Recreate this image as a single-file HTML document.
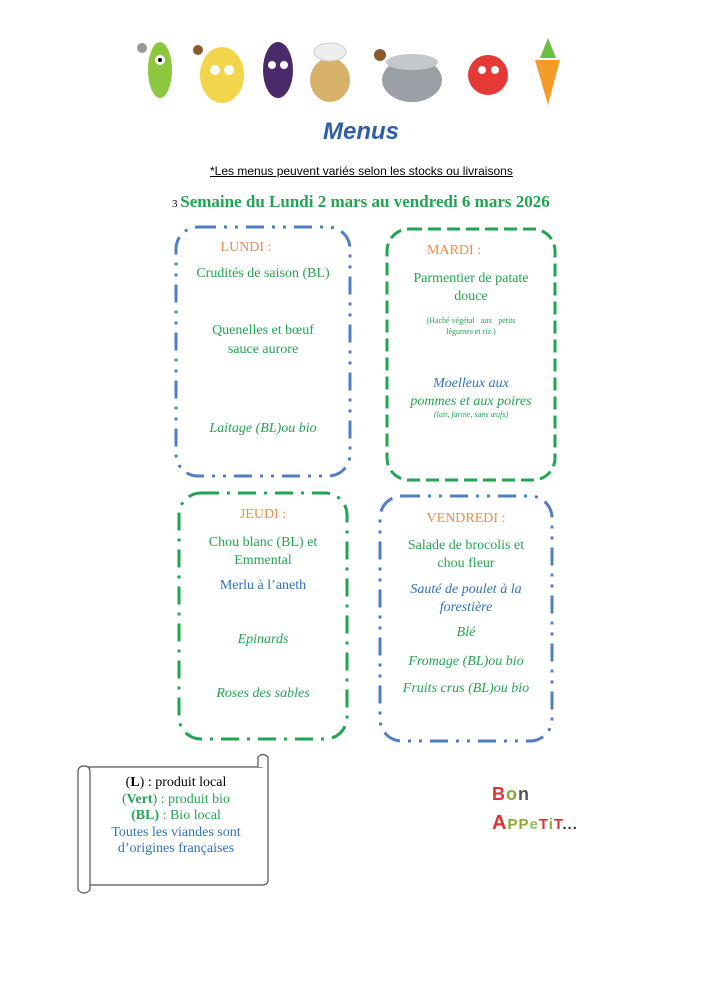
<!DOCTYPE html>
<html><head><meta charset="utf-8"><style>
body{margin:0;width:707px;height:1000px;background:#fff;position:relative;font-family:"Liberation Serif",serif;overflow:hidden}
.t{position:absolute;text-align:center;white-space:nowrap}
.g{color:#22a552}.o{color:#ef8a4f}.b{color:#2e72c0}.i{font-style:italic}
</style></head><body>
<svg width="707" height="1000" style="position:absolute;left:0;top:0">
<g>
<ellipse cx="160" cy="70" rx="12" ry="28" fill="#8dc63f"/><circle cx="160" cy="60" r="5" fill="#fff"/><circle cx="160" cy="60" r="2" fill="#000"/>
<ellipse cx="222" cy="75" rx="22" ry="28" fill="#f2d54a"/><circle cx="215" cy="70" r="5" fill="#fff"/><circle cx="229" cy="70" r="5" fill="#fff"/>
<ellipse cx="278" cy="70" rx="15" ry="28" fill="#4b2a6b"/><circle cx="272" cy="65" r="4" fill="#fff"/><circle cx="284" cy="65" r="4" fill="#fff"/>
<ellipse cx="330" cy="80" rx="20" ry="22" fill="#d9b26a"/><ellipse cx="330" cy="52" rx="16" ry="9" fill="#eee" stroke="#ccc"/>
<ellipse cx="412" cy="80" rx="30" ry="22" fill="#9aa0a6"/><ellipse cx="412" cy="62" rx="26" ry="8" fill="#c4c8cc"/>
<circle cx="488" cy="75" r="20" fill="#e53935"/><circle cx="482" cy="70" r="4" fill="#fff"/><circle cx="495" cy="70" r="4" fill="#fff"/>
<path d="M535 60 L560 60 L548 105 Z" fill="#f39c2a"/><path d="M540 58 L548 38 L556 58 Z" fill="#6abf3f"/>
<circle cx="380" cy="55" r="6" fill="#8b5a2b"/><circle cx="198" cy="50" r="5" fill="#8b5a2b"/><circle cx="142" cy="48" r="5" fill="#999"/>
</g>
<g fill="none" stroke-width="3" stroke-linecap="butt">
<rect x="176" y="227" width="174" height="249" rx="22" stroke="#4f7fc1" stroke-dasharray="18 8 3 8 3 8"/>
<rect x="387" y="229" width="168" height="251" rx="22" stroke="#22a552" stroke-dasharray="13 6"/>
<rect x="179" y="493" width="168" height="246" rx="22" stroke="#22a552" stroke-dasharray="18 8 3 8"/>
<rect x="380" y="496" width="172" height="245" rx="22" stroke="#4f7fc1" stroke-dasharray="18 8 3 8 3 8"/>
</g>
<g fill="#fff" stroke="#555" stroke-width="1.2">
<path d="M84 767 L260 767 Q268 767 268 760 L268 880 Q268 885 262 885 L88 885 L88 888"/>
<path d="M258 767 L258 757 Q263 752 268 757 L268 767"/>
<path d="M78 772 Q78 766 84 766 Q90 766 90 772 L90 890 Q84 896 78 890 Z"/>
</g>
</svg>
<div class="t b i" style="left:0;width:722px;top:118px;font:italic bold 24px 'Liberation Sans',sans-serif;color:#2e5fa8">Menus</div>
<div class="t" style="left:210px;top:164px;font:12px 'Liberation Sans',sans-serif;text-decoration:underline">*Les menus peuvent variés selon les stocks ou livraisons</div>
<div class="t" style="left:172px;top:192px;font-size:17px"><span style="font-size:11px">3 </span><b class="g">Semaine du Lundi 2 mars au vendredi 6 mars 2026</b></div>

<div class="t o" style="left:176px;width:140px;top:240px;font-size:14px">LUNDI :</div>
<div class="t g" style="left:176px;width:174px;top:266px;font-size:14px">Crudités de saison (BL)</div>
<div class="t g" style="left:176px;width:174px;top:321px;font-size:14px;line-height:19px">Quenelles et bœuf<br>sauce aurore</div>
<div class="t g i" style="left:176px;width:174px;top:421px;font-size:14px">Laitage (BL)ou bio</div>

<div class="t o" style="left:387px;width:134px;top:243px;font-size:14px">MARDI :</div>
<div class="t g" style="left:387px;width:168px;top:270px;font-size:14px;line-height:18px">Parmentier de patate<br>douce</div>
<div class="t g" style="left:387px;width:168px;top:315px;font-size:8px;line-height:11px">(Haché végétal &nbsp; aux &nbsp; petits<br>légumes et riz )</div>
<div class="t i" style="left:387px;width:168px;top:375px;font-size:14px;line-height:18px"><span class="b">Moelleux aux</span><br><span class="g">pommes et aux poires</span></div>
<div class="t g i" style="left:387px;width:168px;top:410px;font-size:8px">(lait, farine, sans œufs)</div>

<div class="t o" style="left:179px;width:168px;top:507px;font-size:14px">JEUDI :</div>
<div class="t g" style="left:179px;width:168px;top:534px;font-size:14px;line-height:18px">Chou blanc (BL) et<br>Emmental</div>
<div class="t b" style="left:179px;width:168px;top:578px;font-size:14px">Merlu à l’aneth</div>
<div class="t g i" style="left:179px;width:168px;top:632px;font-size:14px">Epinards</div>
<div class="t g i" style="left:179px;width:168px;top:686px;font-size:14px">Roses des sables</div>

<div class="t o" style="left:380px;width:172px;top:511px;font-size:14px">VENDREDI :</div>
<div class="t g" style="left:380px;width:172px;top:537px;font-size:14px;line-height:18px">Salade de brocolis et<br>chou fleur</div>
<div class="t b i" style="left:380px;width:172px;top:581px;font-size:14px;line-height:18px">Sauté de poulet à la<br>forestière</div>
<div class="t g i" style="left:380px;width:172px;top:625px;font-size:14px">Blé</div>
<div class="t g i" style="left:380px;width:172px;top:654px;font-size:14px">Fromage (BL)ou bio</div>
<div class="t g i" style="left:380px;width:172px;top:681px;font-size:14px">Fruits crus (BL)ou bio</div>

<div class="t" style="left:90px;width:172px;top:775px;font-size:14px;line-height:16.5px">(<b>L</b>) : produit local<br><span class="g">(<b>Vert</b>) : produit bio</span><br><span class="g"><b>(BL)</b> : Bio local</span><br><span class="b">Toutes les viandes sont<br>d’origines françaises</span></div>

<div class="t" style="left:492px;top:784px;font:bold 18px 'Liberation Sans',sans-serif;letter-spacing:1px"><span style="color:#d33">B</span><span style="color:#8a3">o</span><span style="color:#555">n</span></div>
<div class="t" style="left:492px;top:812px;font:bold 20px 'Liberation Sans',sans-serif;letter-spacing:1px"><span style="color:#d33">A</span><span style="color:#8a3;font-size:15px">PP</span><span style="color:#9b6;font-size:15px">e</span><span style="color:#d33;font-size:15px">T</span><span style="color:#8a3;font-size:15px">i</span><span style="color:#d33;font-size:15px">T</span><span style="color:#333;font-size:15px">...</span></div>
</body></html>
